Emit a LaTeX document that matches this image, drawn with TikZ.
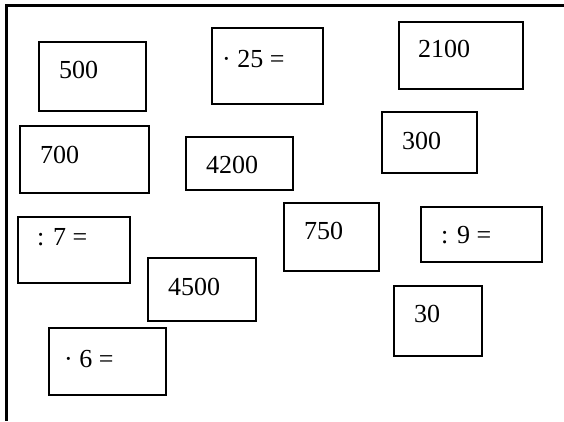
\documentclass[tikz,border=0pt]{standalone}
\usepackage{fontspec}
\setmainfont{Liberation Serif}
\begin{document}
\begin{tikzpicture}[x=1pt,y=-1pt,
  box/.style={draw=black,line width=1.1pt,rectangle,inner sep=0pt},
  lbl/.style={inner sep=0pt,anchor=base west,font=\fontsize{26}{30}\selectfont},
  frameline/.style={line width=3pt,black}]
\useasboundingbox (0,0) rectangle (564,421);
% frame
\coordinate (ftr) at (564,5.5);
\coordinate (ftl) at (5,5.5);
\coordinate (flt) at (6.5,4);
\coordinate (flb) at (6.5,421);
\draw[frameline] (ftl) -- (ftr);
\draw[frameline] (flt) -- (flb);
% boxes
\node[box,minimum width=107pt,minimum height=69pt] (b500)  at (92.5,76.5) {};
\node[box,minimum width=111pt,minimum height=76pt] (b25)   at (267.5,66) {};
\node[box,minimum width=124pt,minimum height=67pt] (b2100) at (461,55.5) {};
\node[box,minimum width=129pt,minimum height=67pt] (b700)  at (84.5,159.5) {};
\node[box,minimum width=107pt,minimum height=53pt] (b4200) at (239.5,163.5) {};
\node[box,minimum width=95pt,minimum height=61pt]  (b300)  at (429.5,142.5) {};
\node[box,minimum width=112pt,minimum height=66pt] (b7)    at (74,250) {};
\node[box,minimum width=95pt,minimum height=68pt]  (b750)  at (331.5,237) {};
\node[box,minimum width=121pt,minimum height=55pt] (b9)    at (481.5,234.5) {};
\node[box,minimum width=108pt,minimum height=63pt] (b4500) at (202,289.5) {};
\node[box,minimum width=88pt,minimum height=70pt]  (b30)   at (438,321) {};
\node[box,minimum width=117pt,minimum height=67pt] (b6)    at (107.5,361.5) {};
% labels
\node[lbl] (t500)  at (59,78)   {500};
\node[lbl] (t25)   at (222,67)  {· 25 =};
\node[lbl] (t2100) at (418,57)  {2100};
\node[lbl] (t700)  at (40,163)  {700};
\node[lbl] (t4200) at (206,173) {4200};
\node[lbl] (t300)  at (402,149) {300};
\node[lbl] (t7)    at (37,245)  {: 7 =};
\node[lbl] (t750)  at (304,239) {750};
\node[lbl] (t9)    at (441,243) {: 9 =};
\node[lbl] (t4500) at (168,295) {4500};
\node[lbl] (t30)   at (414,322) {30};
\node[lbl] (t6)    at (64,367)  {· 6 =};
\end{tikzpicture}
\end{document}
